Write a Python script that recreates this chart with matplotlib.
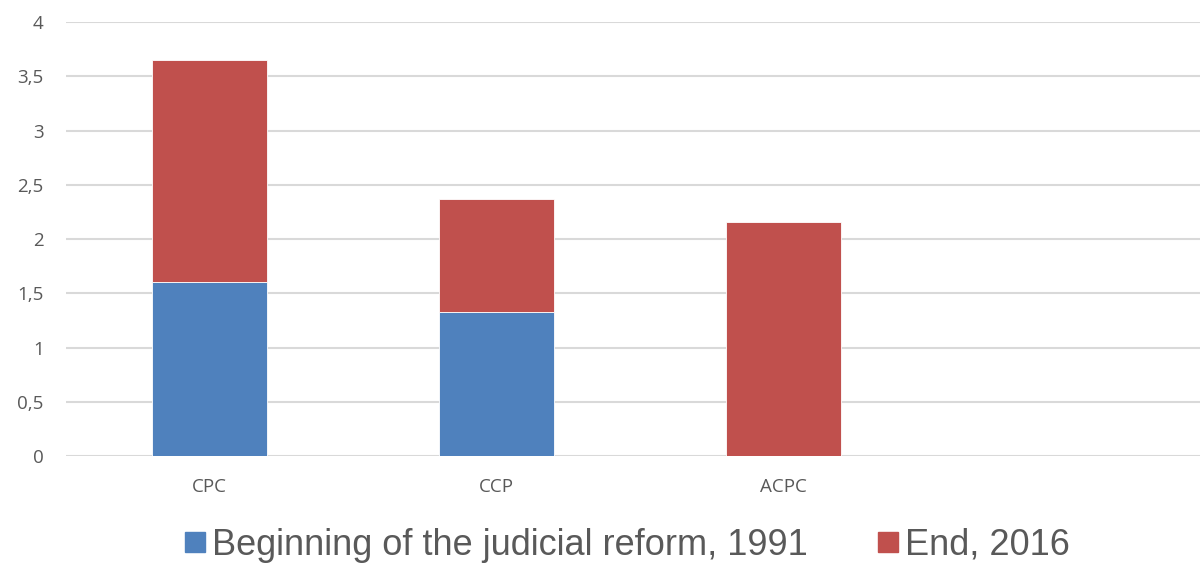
"""Stacked bar chart: codes before and after the judicial reform."""

import matplotlib

matplotlib.use("Agg")
import matplotlib.pyplot as plt
from matplotlib.lines import Line2D

CATEGORIES = ["CPC", "CCP", "ACPC", ""]
BEGIN_1991 = [1.60, 1.33, 0.0, 0.0]
END_2016 = [2.05, 1.04, 2.16, 0.0]
Y_TICKS = [0, 0.5, 1, 1.5, 2, 2.5, 3, 3.5, 4]
Y_LABELS = ["0", "0,5", "1", "1,5", "2", "2,5", "3", "3,5", "4"]
SERIES_LABELS = ["Beginning of the judicial reform, 1991", "End, 2016"]
COLORS = ["#4f81bd", "#c0504d"]

plt.rcParams["font.family"] = ["Open Sans", "DejaVu Sans"]

fig = plt.figure(figsize=(12, 5.66), dpi=100)
ax = fig.add_axes([0.055, 0.1943, 0.945, 0.7667])

x = list(range(len(CATEGORIES)))
width = 0.40
ax.bar(x, BEGIN_1991, width=width, color=COLORS[0], edgecolor="white", linewidth=0.6, zorder=3)
ax.bar(x, END_2016, width=width, bottom=BEGIN_1991, color=COLORS[1], edgecolor="white", linewidth=0.6, zorder=3)

ax.set_xlim(-0.5, 3.451)
ax.set_ylim(0, 4)
ax.set_yticks(Y_TICKS, Y_LABELS)
ax.set_xticks(x[:3], CATEGORIES[:3])
ax.grid(axis="y", color="#d9d9d9", linewidth=1.5, zorder=0)
ax.tick_params(length=0, colors="#595959", labelsize=13.5)
ax.tick_params(axis="x", pad=16)
ax.tick_params(axis="y", pad=16)
for spine in ax.spines.values():
    spine.set_visible(False)

handles = [Line2D([], [], marker="s", linestyle="none", markersize=14, color=c) for c in COLORS]
fig.legend(
    handles,
    SERIES_LABELS,
    loc="center",
    bbox_to_anchor=(0.522, 0.037),
    ncol=2,
    frameon=False,
    prop={"family": "Liberation Sans", "size": 26},
    labelcolor="#595959",
    handlelength=0.65,
    handletextpad=0.15,
    columnspacing=1.9,
)

fig.savefig("out.png", dpi=100)
